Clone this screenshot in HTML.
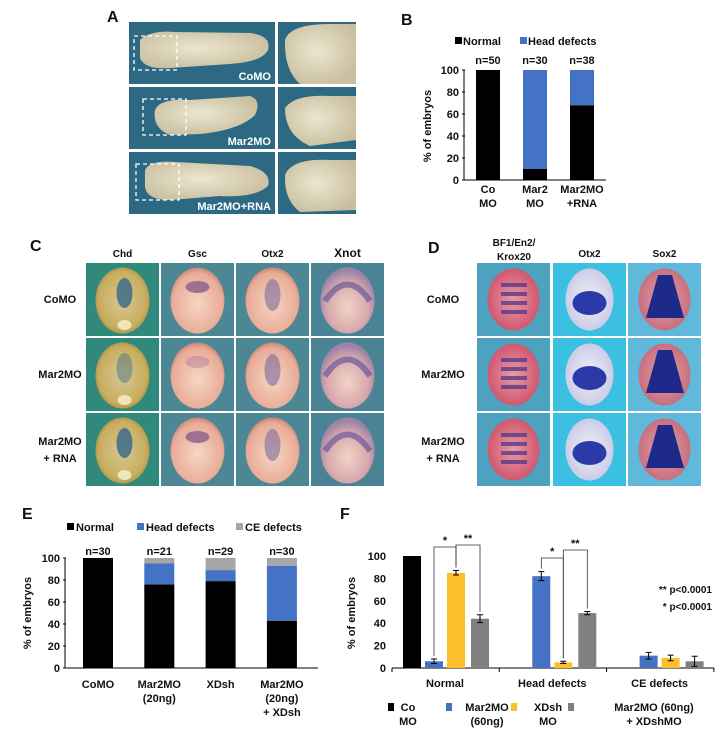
<!DOCTYPE html>
<html><head><meta charset="utf-8"><style>
html,body{margin:0;padding:0;background:#fff;}
svg{display:block;font-family:"Liberation Sans",Arial,sans-serif;}
text{font-weight:bold;fill:#111;}
</style></head><body>
<svg id="fig" width="728" height="729" viewBox="0 0 728 729" xmlns="http://www.w3.org/2000/svg">
<defs>
<radialGradient id="gBeige" cx="45%" cy="45%" r="60%"><stop offset="0" stop-color="#ece6cf"/><stop offset="1" stop-color="#c9bfa0"/></radialGradient>
<radialGradient id="gYel" cx="50%" cy="50%" r="55%"><stop offset="0" stop-color="#d6c793"/><stop offset="0.8" stop-color="#c8ad5e"/><stop offset="1" stop-color="#a8883c"/></radialGradient>
<radialGradient id="gPink" cx="50%" cy="55%" r="55%"><stop offset="0" stop-color="#f6d6c4"/><stop offset="0.85" stop-color="#e8ac97"/><stop offset="1" stop-color="#c98574"/></radialGradient>
<radialGradient id="gLav" cx="50%" cy="60%" r="55%"><stop offset="0" stop-color="#f3d3c6"/><stop offset="0.7" stop-color="#d7a8ac"/><stop offset="1" stop-color="#9c84a8"/></radialGradient>
<radialGradient id="gRed" cx="50%" cy="50%" r="55%"><stop offset="0" stop-color="#e69ca4"/><stop offset="1" stop-color="#d0506a"/></radialGradient>
<radialGradient id="gWhite" cx="50%" cy="50%" r="55%"><stop offset="0" stop-color="#f2f0f6"/><stop offset="1" stop-color="#c8c8e6"/></radialGradient>
<radialGradient id="gRose" cx="50%" cy="50%" r="55%"><stop offset="0" stop-color="#e6a2a6"/><stop offset="1" stop-color="#c46a7c"/></radialGradient>
</defs>

<!-- Panel A -->
<text x="107" y="22" font-size="16">A</text>
<g>
  <g>
    <rect x="129" y="22" width="146" height="62" fill="#2d6983"/>
    <path d="M140 40 Q150 30 175 32 L250 33 Q272 36 268 50 Q262 62 230 64 L170 68 Q145 70 140 58 Z" fill="url(#gBeige)"/>
    <rect x="134" y="36" width="43" height="34" fill="none" stroke="#fff" stroke-width="1.3" stroke-dasharray="4,3"/>
    <text x="271" y="80" font-size="11" text-anchor="end" fill="#fff" style="fill:#fff">CoMO</text>
    <rect x="278" y="22" width="78" height="62" fill="#2d6983"/>
    <path d="M285 40 Q290 24 330 24 L356 24 L356 84 L300 84 Q284 70 285 40 Z" fill="url(#gBeige)"/>
  </g>
  <g>
    <rect x="129" y="87" width="146" height="62" fill="#2d6983"/>
    <path d="M155 110 Q160 98 190 100 L250 96 Q262 100 255 115 Q240 130 200 134 L170 135 Q152 128 155 110 Z" fill="url(#gBeige)"/>
    <rect x="143" y="99" width="43" height="36" fill="none" stroke="#fff" stroke-width="1.3" stroke-dasharray="4,3"/>
    <text x="271" y="145" font-size="11" text-anchor="end" style="fill:#fff">Mar2MO</text>
    <rect x="278" y="87" width="78" height="62" fill="#2d6983"/>
    <path d="M285 108 Q295 94 330 96 L356 96 L356 140 L310 146 Q285 135 285 108 Z" fill="url(#gBeige)"/>
  </g>
  <g>
    <rect x="129" y="152" width="146" height="62" fill="#2d6983"/>
    <path d="M145 170 Q150 160 175 162 L250 166 Q272 172 268 186 Q255 198 220 196 L170 200 Q145 200 145 185 Z" fill="url(#gBeige)"/>
    <rect x="136" y="164" width="43" height="36" fill="none" stroke="#fff" stroke-width="1.3" stroke-dasharray="4,3"/>
    <text x="271" y="210" font-size="11" text-anchor="end" style="fill:#fff">Mar2MO+RNA</text>
    <rect x="278" y="152" width="78" height="62" fill="#2d6983"/>
    <path d="M285 175 Q292 158 330 160 L356 160 L356 210 L300 212 Q284 200 285 175 Z" fill="url(#gBeige)"/>
  </g>
</g>

<!-- Panel B -->
<text x="401" y="25" font-size="16">B</text>
<g id="chartB"></g>

<!-- Panel C -->
<text x="30" y="251" font-size="16">C</text>
<g id="panelC"></g>
<!-- Panel D -->
<text x="428" y="253" font-size="16">D</text>
<g id="panelD"></g>

<!-- Panel E -->
<text x="22" y="519" font-size="16">E</text>
<g id="chartE"></g>

<!-- Panel F -->
<text x="340" y="519" font-size="16">F</text>
<g id="chartF"></g>
</svg>

<script>
// ---------- data ----------
const bCategories=[['Co','MO'],['Mar2','MO'],['Mar2MO','+RNA']];
const bNormal=[100,10,68];
const bHead=[0,90,32];
const bCounts=['n=50','n=30','n=38'];
const bTicks=[0,20,40,60,80,100];

const eCategories=[['CoMO'],['Mar2MO','(20ng)'],['XDsh'],['Mar2MO','(20ng)','+ XDsh']];
const eNormal=[100,76,79,43];
const eHead=[0,19,10,50];
const eCE=[0,5,11,7];
const eCounts=['n=30','n=21','n=29','n=30'];
const eTicks=[0,20,40,60,80,100];

const fGroups=['Normal','Head defects','CE defects'];
const fCoMO=[100,0,0];
const fMar2=[6,82,11];
const fXDsh=[85,5,9];
const fBoth=[44,49,6];
const fErrCoMO=[0,0,0];
const fErrMar2=[2,4,3];
const fErrXDsh=[2,1,2.5];
const fErrBoth=[3.5,1.5,4.5];
const fTicks=[0,20,40,60,80,100];

const NS='http://www.w3.org/2000/svg';
function mk(tag,attrs,parent,txt){const e=document.createElementNS(NS,tag);for(const k in attrs)e.setAttribute(k,attrs[k]);if(txt!==undefined)e.textContent=txt;parent.appendChild(e);return e;}

// ---------- Chart B ----------
(function(){
const g=document.getElementById('chartB');
const yB=v=>180-v*1.1, xB=i=>488+i*47, bw=24;
bTicks.forEach(t=>{
  const tl=mk('text',{x:459,y:yB(t)+4,'font-size':11,'text-anchor':'end'},g,String(t));
  
  
  mk('line',{x1:462,x2:465,y1:yB(t),y2:yB(t),stroke:'#000'},g);
});
const ax=mk('path',{d:'M464 70 V180 H606',stroke:'#000',fill:'none','stroke-width':1},g);


bNormal.forEach((v,i)=>{
  const r=mk('rect',{x:xB(i)-bw/2,y:yB(v),width:bw,height:yB(0)-yB(v),fill:'#000'},g);
  
  
  const r2=mk('rect',{x:xB(i)-bw/2,y:yB(v+bHead[i]),width:bw,height:yB(v)-yB(v+bHead[i]),fill:'#4472c4'},g);
  
  
  const n=mk('text',{x:xB(i),y:64,'font-size':11,'text-anchor':'middle'},g,bCounts[i]);
  
  
  bCategories[i].forEach((s,j)=>{
    const c=mk('text',{x:xB(i),y:193+j*14,'font-size':11,'text-anchor':'middle'},g,s);
    
    
  });
});
const yl=mk('text',{x:0,y:0,'font-size':11,'text-anchor':'middle',transform:'translate(431,126) rotate(-90)'},g,'% of embryos');


mk('rect',{x:455,y:37,width:7,height:7,fill:'#000'},g);
const l1=mk('text',{x:463,y:45,'font-size':11},g,'Normal');


mk('rect',{x:520,y:37,width:7,height:7,fill:'#4472c4'},g);
const l2=mk('text',{x:528,y:45,'font-size':11},g,'Head defects');


})();

// ---------- Panels C & D photos ----------
(function(){
const c=document.getElementById('panelC');
const cols=[86,161,236,311], cw=73, rows=[263,338,413], rh=73;
const heads=['Chd','Gsc','Otx2','Xnot'];
const bgs=['#2f8a7c','#4c8796','#4c8796','#4a8494'];
const fills=['url(#gYel)','url(#gPink)','url(#gPink)','url(#gLav)'];
heads.forEach((h,i)=>{
  const t=mk('text',{x:cols[i]+cw/2,y:257,'font-size':i==3?12:10,'text-anchor':'middle'},c,h);
  
  
});
const rl=[['CoMO'],['Mar2MO'],['Mar2MO','+ RNA']];
rl.forEach((r,j)=>{
  r.forEach((s,k)=>{
    const t=mk('text',{x:60,y:rows[j]+40-(r.length-1)*8+k*17,'font-size':11,'text-anchor':'middle'},c,s);
    
    
  });
  cols.forEach((x,i)=>{
    mk('rect',{x:x,y:rows[j],width:cw,height:rh,fill:bgs[i]},c);
    mk('ellipse',{cx:x+cw/2,cy:rows[j]+rh/2+1,rx:27,ry:33,fill:fills[i]},c);
    if(i==0){mk('ellipse',{cx:x+cw/2+2,cy:rows[j]+30,rx:8,ry:15,fill:'#3d6c88',opacity:j==1?0.45:0.85},c);mk('ellipse',{cx:x+cw/2+2,cy:rows[j]+62,rx:7,ry:5,fill:'#efe6b8'},c);}
    if(i==1){mk('ellipse',{cx:x+cw/2,cy:rows[j]+24,rx:12,ry:6,fill:'#8a5d8a',opacity:j==1?0.3:0.8},c);}
    if(i==2){mk('ellipse',{cx:x+cw/2,cy:rows[j]+32,rx:8,ry:16,fill:'#7a6a9a',opacity:0.6},c);}
    if(i==3){mk('path',{d:`M${x+14} ${rows[j]+38} Q${x+cw/2} ${rows[j]+5} ${x+cw-14} ${rows[j]+38}`,stroke:'#6a5a9a','stroke-width':6,fill:'none',opacity:0.7},c);}
  });
});

const d=document.getElementById('panelD');
const dcols=[477,553,628], dw=73;
const dbgs=['#4da3bf','#3cc0e2','#60b8da'];
const dfills=['url(#gRed)','url(#gWhite)','url(#gRose)'];
const d1=mk('text',{x:514,y:246,'font-size':10,'text-anchor':'middle'},d,'BF1/En2/');


const d2=mk('text',{x:514,y:260,'font-size':10,'text-anchor':'middle'},d,'Krox20');


['Otx2','Sox2'].forEach((h,i)=>{
  const t=mk('text',{x:dcols[i+1]+dw/2,y:257,'font-size':10,'text-anchor':'middle'},d,h);
  
  
});
rl.forEach((r,j)=>{
  r.forEach((s,k)=>{
    const t=mk('text',{x:443,y:rows[j]+40-(r.length-1)*8+k*17,'font-size':11,'text-anchor':'middle'},d,s);
    
    
  });
  dcols.forEach((x,i)=>{
    mk('rect',{x:x,y:rows[j],width:dw,height:rh,fill:dbgs[i]},d);
    mk('ellipse',{cx:x+dw/2,cy:rows[j]+rh/2,rx:i==1?24:26,ry:31,fill:dfills[i]},d);
    if(i==0){for(let q=0;q<4;q++)mk('rect',{x:x+24,y:rows[j]+20+q*9,width:26,height:4,fill:'#5a3a8a',opacity:0.8},d);}
    if(i==1){mk('ellipse',{cx:x+dw/2,cy:rows[j]+40,rx:17,ry:12,fill:'#2a3aa8'},d);}
    if(i==2){mk('path',{d:`M${x+30} ${rows[j]+12} L${x+44} ${rows[j]+12} L${x+56} ${rows[j]+55} L${x+18} ${rows[j]+55} Z`,fill:'#1e2a8a'},d);}
  });
});
})();

// ---------- Chart E ----------
(function(){
const g=document.getElementById('chartE');
const yE=v=>668-v*1.1, xE=i=>98+i*61.3, bw=30;
eTicks.forEach(t=>{
  const tl=mk('text',{x:60,y:yE(t)+4,'font-size':11,'text-anchor':'end'},g,String(t));
  
  
  mk('line',{x1:63,x2:66,y1:yE(t),y2:yE(t),stroke:'#000'},g);
});
const ax=mk('path',{d:'M65 558 V668 H318',stroke:'#000',fill:'none'},g);


eNormal.forEach((v,i)=>{
  const h=eHead[i], ce=eCE[i];
  const r=mk('rect',{x:xE(i)-bw/2,y:yE(v),width:bw,height:yE(0)-yE(v),fill:'#000'},g);
  
  
  const r2=mk('rect',{x:xE(i)-bw/2,y:yE(v+h),width:bw,height:yE(v)-yE(v+h),fill:'#4472c4'},g);
  
  
  const r3=mk('rect',{x:xE(i)-bw/2,y:yE(v+h+ce),width:bw,height:yE(v+h)-yE(v+h+ce),fill:'#a6a6a6'},g);
  
  
  const n=mk('text',{x:xE(i),y:555,'font-size':11,'text-anchor':'middle'},g,eCounts[i]);
  
  
  eCategories[i].forEach((s,j)=>{
    const c=mk('text',{x:xE(i),y:688+j*14,'font-size':11,'text-anchor':'middle'},g,s);
    
    
  });
});
const yl=mk('text',{x:0,y:0,'font-size':11,'text-anchor':'middle',transform:'translate(31,613) rotate(-90)'},g,'% of embryos');


const leg=[['Normal','#000',67],['Head defects','#4472c4',137],['CE defects','#a6a6a6',236]];
leg.forEach(l=>{
  mk('rect',{x:l[2],y:523,width:7,height:7,fill:l[1]},g);
  const t=mk('text',{x:l[2]+9,y:531,'font-size':11},g,l[0]);
  
  
});
})();

// ---------- Chart F ----------
(function(){
const g=document.getElementById('chartF');
const yF=v=>668-v*1.12, gx=k=>392+k*107.3, offs=[20,42,64,88], bw=18;
const series=[fCoMO,fMar2,fXDsh,fBoth], errs=[fErrCoMO,fErrMar2,fErrXDsh,fErrBoth];
const cols=['#000','#4472c4','#fbbf2c','#808080'];
const names=['bar-como','bar-mar2mo','bar-xdsh','bar-mar2mo-xdsh'];
fTicks.forEach(t=>{
  const tl=mk('text',{x:386,y:yF(t)+4,'font-size':11,'text-anchor':'end'},g,String(t));
  
  
});
const ax=mk('path',{d:'M392 668 H714',stroke:'#000',fill:'none'},g);


[0,1,2,3].forEach(k=>mk('line',{x1:gx(k),x2:gx(k),y1:668,y2:672,stroke:'#000'},g));
fGroups.forEach((name,k)=>{
  const t=mk('text',{x:gx(k)+53,y:687,'font-size':11,'text-anchor':'middle'},g,name);
  
  
  series.forEach((s,si)=>{
    if(s[k]<=0)return;
    const cx=gx(k)+offs[si];
    const r=mk('rect',{x:cx-bw/2,y:yF(s[k]),width:bw,height:yF(0)-yF(s[k]),fill:cols[si]},g);
    
    
    const e=errs[si][k];
    if(e>0){
      const eb=mk('path',{d:`M${cx} ${yF(s[k]+e)} V${yF(s[k]-e)} M${cx-3} ${yF(s[k]+e)} H${cx+3} M${cx-3} ${yF(s[k]-e)} H${cx+3}`,stroke:'#000',fill:'none'},g);
      
      
    }
  });
});
// significance brackets (anchored to bar values)
function bracket(k,a,b,top,label){
  const xa=gx(k)+offs[a], xb=gx(k)+offs[b];
  const ya=yF(series[a][k]+errs[a][k])-3, yb=yF(series[b][k]+errs[b][k])-3;
  const p=mk('path',{d:`M${xa} ${ya} V${top} H${xb} V${yb}`,stroke:'#333',fill:'none','stroke-width':0.8},g);
  
  
  const t=mk('text',{x:(xa+xb)/2,y:top-3,'font-size':11,'text-anchor':'middle'},g,label);
  
  
}
bracket(0,1,2,547,'*');
bracket(0,2,3,545,'**');
bracket(1,1,2,558,'*');
bracket(1,2,3,550,'**');
const p1=mk('text',{x:712,y:593,'font-size':10,'text-anchor':'end'},g,'**  p<0.0001');


const p2=mk('text',{x:712,y:610,'font-size':10,'text-anchor':'end'},g,'* p<0.0001');


const yl=mk('text',{x:0,y:0,'font-size':11,'text-anchor':'middle',transform:'translate(355,613) rotate(-90)'},g,'% of embryos');


const leg=[[['Co','MO'],'#000',391,408],[['Mar2MO','(60ng)'],'#4472c4',449,487],[['XDsh','MO'],'#fbbf2c',514,548],[['Mar2MO (60ng)','+ XDshMO'],'#808080',571,654]];
leg.forEach(l=>{
  mk('rect',{x:l[2]-3,y:703,width:6,height:8,fill:l[1]},g);
  l[0].forEach((s,j)=>{
    const t=mk('text',{x:l[3],y:711+j*14,'font-size':11,'text-anchor':'middle'},g,s);
    
    
  });
});
})();
</script>
</body></html>
